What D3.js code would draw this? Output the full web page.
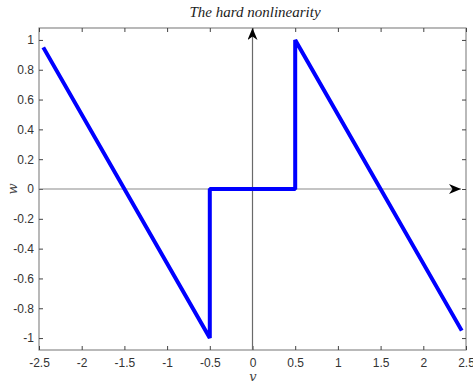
<!DOCTYPE html>
<html><head><meta charset="utf-8">
<script src="https://cdn.jsdelivr.net/npm/d3@7"></script>
<style>body{margin:0;background:#fff}svg{display:block}</style>
</head><body>
<svg id="c" width="473" height="385"></svg>
<script>
const vValues = [-2.45, -0.5, -0.5, 0.5, 0.5, 2.45];
const wValues = [0.95, -1, 0, 0, 1, -0.95];
const xTicks = [-2.5, -2, -1.5, -1, -0.5, 0, 0.5, 1, 1.5, 2, 2.5];
const yTicks = [-1, -0.8, -0.6, -0.4, -0.2, 0, 0.2, 0.4, 0.6, 0.8, 1];
const xDomain = [-2.5, 2.5];
const yDomain = [-1.08, 1.08];
const titleText = "The hard nonlinearity";
const xLabel = "v", yLabel = "w";

const svg = d3.select("#c");
const m = {l: 39, r: 466, t: 28, b: 350};
const x = d3.scaleLinear().domain(xDomain).range([m.l, m.r]);
const y = d3.scaleLinear().domain(yDomain).range([m.b, m.t]);

svg.append("rect").attr("x", m.l).attr("y", m.t).attr("width", m.r - m.l).attr("height", m.b - m.t)
  .attr("fill", "none").attr("stroke", "#8a8a8a").attr("stroke-width", 1.2);

const tickStyle = g => {
  g.select(".domain").remove();
  g.selectAll(".tick line").attr("stroke", "#444");
  g.selectAll(".tick text").attr("fill", "#333").attr("font-family", "Liberation Sans, Arial, sans-serif").attr("font-size", 12);
};
svg.append("g").attr("transform", `translate(0,${m.b})`)
  .call(d3.axisBottom(x).tickValues(xTicks).tickSize(-4).tickPadding(8).tickFormat(d => d)).call(tickStyle);
svg.append("g").attr("transform", `translate(${m.l},0)`)
  .call(d3.axisLeft(y).tickValues(yTicks).tickSize(-4).tickPadding(5).tickFormat(d => d)).call(tickStyle);
svg.append("g").attr("transform", `translate(0,${m.t})`)
  .call(d3.axisTop(x).tickValues(xTicks).tickSize(-4).tickFormat("")).call(tickStyle);
svg.append("g").attr("transform", `translate(${m.r},0)`)
  .call(d3.axisRight(y).tickValues(yTicks).tickSize(-4).tickFormat("")).call(tickStyle);

const defs = svg.append("defs");
defs.append("marker").attr("id", "ah").attr("viewBox", "0 0 12 10").attr("refX", 12).attr("refY", 5)
  .attr("markerWidth", 12).attr("markerHeight", 10).attr("markerUnits", "userSpaceOnUse").attr("orient", "auto")
  .append("path").attr("d", "M0,0 L12,5 L0,10 L3.5,5 Z").attr("fill", "#000");
svg.append("line").attr("x1", m.l).attr("x2", 461).attr("y1", y(0)).attr("y2", y(0))
  .attr("stroke", "#8a8a8a").attr("stroke-width", 1.2).attr("marker-end", "url(#ah)");
svg.append("line").attr("x1", x(0)).attr("x2", x(0)).attr("y1", m.b).attr("y2", m.t)
  .attr("stroke", "#6a6a6a").attr("stroke-width", 1.2).attr("marker-end", "url(#ah)");

const pts = vValues.map((v, i) => [v, wValues[i]]);
svg.append("path").datum(pts)
  .attr("d", d3.line().x(d => x(d[0])).y(d => y(d[1])))
  .attr("fill", "none").attr("stroke", "#0000ff").attr("stroke-width", 4).attr("stroke-linejoin", "bevel");

svg.append("text").attr("x", 255).attr("y", 17).attr("text-anchor", "middle")
  .attr("font-family", "Liberation Serif, serif").attr("font-style", "italic").attr("font-size", 15)
  .attr("fill", "#222").text(titleText);
svg.append("text").attr("x", 253).attr("y", 381).attr("text-anchor", "middle")
  .attr("font-family", "DejaVu Serif, serif").attr("font-style", "italic").attr("font-size", 13)
  .attr("fill", "#444").text(xLabel);
svg.append("text").attr("transform", `translate(17,${y(0)}) rotate(-90)`).attr("text-anchor", "middle")
  .attr("font-family", "DejaVu Serif, serif").attr("font-style", "italic").attr("font-size", 13)
  .attr("fill", "#444").text(yLabel);
</script>
</body></html>
